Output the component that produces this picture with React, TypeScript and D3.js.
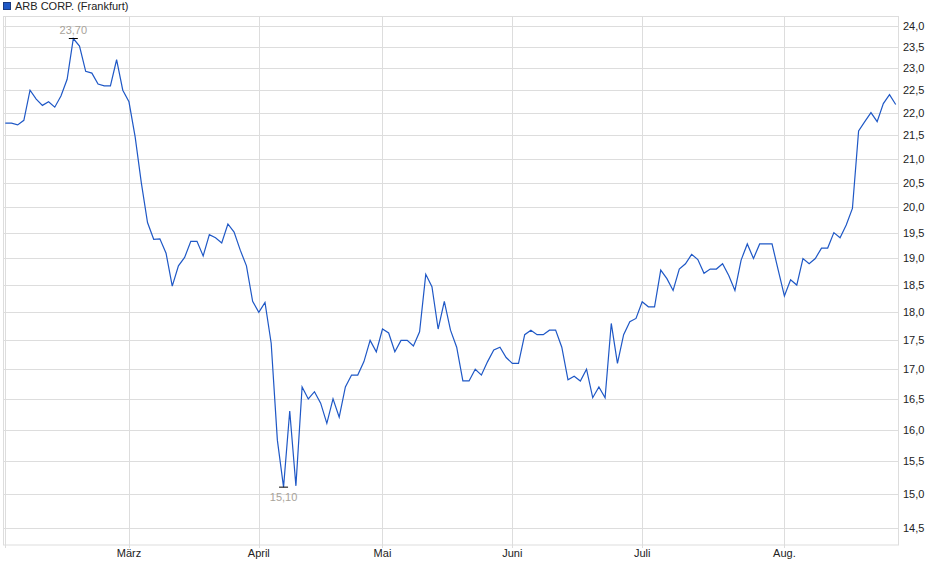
import React from 'react';
import * as d3 from 'd3';

// ARB CORP. (Frankfurt), daily closes Feb 3 – Aug 27 (trading-day index)
const prices: number[] = [
  21.77, 21.77, 21.73, 21.83, 22.5, 22.3, 22.16, 22.24, 22.12, 22.37,
  22.75, 23.7, 23.52, 22.93, 22.89, 22.64, 22.6, 22.6, 23.2, 22.5,
  22.24, 21.47, 20.5, 19.7, 19.37, 19.38, 19.1, 18.48, 18.86, 19.02,
  19.33, 19.33, 19.05, 19.46, 19.4, 19.3, 19.67, 19.51, 19.16, 18.86,
  18.2, 18.0, 18.18, 17.45, 15.83, 15.1, 16.3, 15.12, 16.7, 16.5,
  16.62, 16.43, 16.1, 16.5, 16.2, 16.7, 16.9, 16.9, 17.13, 17.5,
  17.3, 17.7, 17.63, 17.3, 17.5, 17.5, 17.4, 17.65, 18.7, 18.47,
  17.7, 18.2, 17.68, 17.38, 16.8, 16.8, 17.0, 16.9, 17.13, 17.33,
  17.38, 17.2, 17.1, 17.1, 17.6, 17.68, 17.6, 17.6, 17.68, 17.68,
  17.38, 16.82, 16.88, 16.8, 17.0, 16.52, 16.7, 16.52, 17.8, 17.1,
  17.6, 17.83, 17.89, 18.19, 18.1, 18.1, 18.78, 18.62, 18.4, 18.8,
  18.9, 19.08, 18.98, 18.72, 18.8, 18.8, 18.9, 18.68, 18.4, 18.97,
  19.28, 19.0, 19.28, 19.28, 19.28, 18.78, 18.3, 18.6, 18.5, 19.0,
  18.9, 19.0, 19.2, 19.2, 19.5, 19.4, 19.65, 19.98, 21.6, 21.8,
  22.0, 21.8, 22.2, 22.4, 22.18,
];

// first trading day of each month (index into prices)
const monthLabels = ['', 'März', 'April', 'Mai', 'Juni', 'Juli', 'Aug.'];
const monthStart = [0, 20, 41, 61, 82, 103, 126];

const yTicks = [14.5, 15, 15.5, 16, 16.5, 17, 17.5, 18, 18.5, 19, 19.5, 20, 20.5, 21, 21.5, 22, 22.5, 23, 23.5, 24];

const title = 'ARB CORP. (Frankfurt)';

const W = 940;
const H = 579;
const frame = { left: 3, right: 898, top: 16.5, bottom: 545 };
const font = '"Liberation Sans", Arial, sans-serif';
const lineColor = '#1f58c6';
const gridColor = '#dddddd';

const fmt = (v: number, digits: number) => v.toFixed(digits).replace('.', ',');

export default function App() {
  const x = d3.scaleLinear().domain([0, prices.length - 1]).range([5.3, 895.7]);
  const y = d3.scaleLog().domain([14.5, 24]).range([527.5, 26]);

  const line = d3.line<number>()
    .x((_, i) => x(i))
    .y(d => y(d));

  const hiIdx = d3.maxIndex(prices);
  const loIdx = d3.minIndex(prices);
  const hi = prices[hiIdx];
  const lo = prices[loIdx];

  return (
    <svg
      width={W}
      height={H}
      style={{ position: 'absolute', left: 0, top: 0, background: '#fff' }}
      fontFamily={font}
    >
      {/* legend */}
      <rect x={3.5} y={2.5} width={7} height={7} fill={lineColor} stroke="#1a3a80" strokeWidth={1} />
      <text x={15} y={10} fontSize={11} fill="#222">{title}</text>

      {/* horizontal grid + right axis */}
      {yTicks.map(t => (
        <g key={t}>
          <line x1={frame.left} x2={frame.right} y1={Math.round(y(t)) + 0.5} y2={Math.round(y(t)) + 0.5}
            stroke={gridColor} strokeWidth={1} />
          <text x={903} y={y(t) + 4} fontSize={11} fill="#222">{fmt(t, 1)}</text>
        </g>
      ))}

      {/* vertical month grid + labels */}
      {monthStart.map((m, k) => (
        <g key={m}>
          <line x1={Math.round(x(m)) + 0.5} x2={Math.round(x(m)) + 0.5} y1={frame.top} y2={frame.bottom + 3}
            stroke={gridColor} strokeWidth={1} />
          <text x={x(m)} y={557} fontSize={11} fill="#222" textAnchor="middle">{monthLabels[k]}</text>
        </g>
      ))}

      {/* frame */}
      <rect x={frame.left + 0.5} y={frame.top} width={frame.right - frame.left} height={frame.bottom - frame.top}
        fill="none" stroke={gridColor} strokeWidth={1} />

      {/* price line */}
      <path d={line(prices) || ''} fill="none" stroke={lineColor} strokeWidth={1.2} strokeLinejoin="miter" />

      {/* high marker */}
      <line x1={x(hiIdx) - 4.5} x2={x(hiIdx) + 4.5} y1={y(hi)} y2={y(hi)} stroke="#000" strokeWidth={1} />
      <text x={x(hiIdx)} y={y(hi) - 5} fontSize={11} fill="#a8a39a" textAnchor="middle">{fmt(hi, 2)}</text>

      {/* low marker */}
      <line x1={x(loIdx) - 4.5} x2={x(loIdx) + 4.5} y1={y(lo)} y2={y(lo)} stroke="#000" strokeWidth={1} />
      <text x={x(loIdx)} y={y(lo) + 14} fontSize={11} fill="#a8a39a" textAnchor="middle">{fmt(lo, 2)}</text>
    </svg>
  );
}
